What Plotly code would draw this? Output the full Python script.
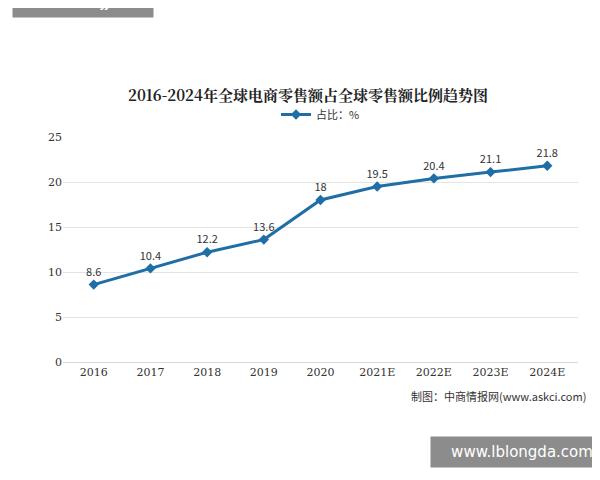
import plotly.graph_objects as go

years = ["2016", "2017", "2018", "2019", "2020", "2021E", "2022E", "2023E", "2024E"]
share = [8.6, 10.4, 12.2, 13.6, 18, 19.5, 20.4, 21.1, 21.8]
labels = ["8.6", "10.4", "12.2", "13.6", "18", "19.5", "20.4", "21.1", "21.8"]

fig = go.Figure()
fig.add_trace(go.Scatter(
    x=years, y=share, name="占比：%", mode="lines+markers+text",
    text=labels, textposition="top center",
    textfont=dict(size=11, color="#333333"),
    line=dict(color="#1f6ea6", width=3),
    marker=dict(symbol="diamond", size=8, color="#1f6ea6"),
))

fig.update_layout(
    width=600, height=480,
    paper_bgcolor="white", plot_bgcolor="white",
    margin=dict(l=55, r=30, t=129, b=126),
    font=dict(family="Noto Sans CJK SC", size=11, color="#333333"),
    title=dict(text="<b>2016-2024年全球电商零售额占全球零售额比例趋势图</b>",
               x=0.5, xanchor="center", y=0.817, yanchor="middle",
               font=dict(size=15, color="#222222", family="Noto Serif CJK SC, Noto Sans CJK SC")),
    legend=dict(orientation="h", x=0.5, xanchor="center", y=1.1, yanchor="middle",
                font=dict(size=11)),
    showlegend=True,
)
fig.update_xaxes(showgrid=False, showline=True, linecolor="#d9d9d9", ticks="",
                 tickfont=dict(size=11, family="DejaVu Serif"))
fig.update_yaxes(range=[0, 25], dtick=5, showgrid=True, gridcolor="#e3e3e3",
                 zeroline=False, tickfont=dict(size=11, family="DejaVu Serif"))

fig.add_annotation(text="制图：中商情报网(www.askci.com)", xref="paper", yref="paper",
                   x=1.02, y=-0.15, xanchor="right", yanchor="middle", showarrow=False,
                   font=dict(size=11, color="#333333"))
fig.add_annotation(text="TG: MYYJJPP", xref="paper", yref="paper",
                   x=-0.1, y=1.6, xanchor="left", yanchor="middle", showarrow=False,
                   bgcolor="#8c8c8c", font=dict(size=15, color="white", family="DejaVu Sans"),
                   borderpad=6, width=128)
fig.add_annotation(text="www.lblongda.com", xref="paper", yref="paper",
                   x=1.07, y=-0.4, xanchor="right", yanchor="middle", showarrow=False,
                   bgcolor="#8c8c8c", font=dict(size=15, color="white", family="DejaVu Sans"),
                   borderpad=6, width=170)

fig.write_html("out.html")
